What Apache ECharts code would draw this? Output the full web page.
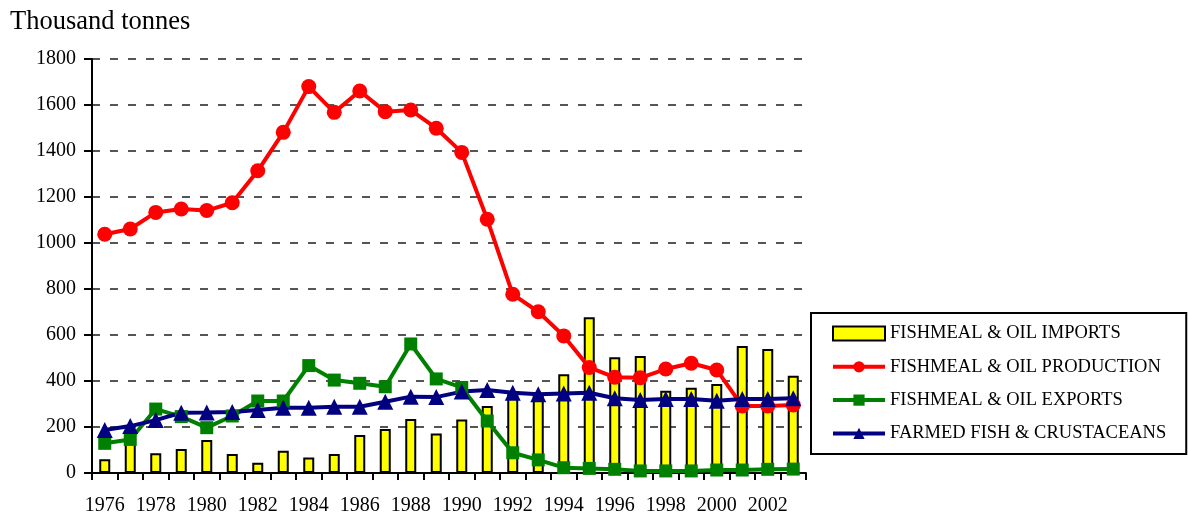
<!DOCTYPE html>
<html>
<head>
<meta charset="utf-8">
<script src="https://cdn.jsdelivr.net/npm/echarts@6/dist/echarts.min.js"></script>
<style>
html,body{margin:0;padding:0;background:#fff;}
#c{width:1188px;height:517px;}
</style>
</head>
<body>
<div id="c"></div>
<script>
var years = ['1976','1977','1978','1979','1980','1981','1982','1983','1984','1985','1986','1987','1988','1989','1990','1991','1992','1993','1994','1995','1996','1997','1998','1999','2000','2001','2002','2003'];
var imports = [60,150,86,104,143,83,45,97,67,83,165,191,235,172,233,291,355,345,429,677,503,509,358,371,387,552,539,423];
var production = [1038,1061,1133,1148,1141,1175,1314,1481,1680,1568,1661,1571,1578,1499,1394,1103,777,701,596,459,416,414,452,477,448,291,291,296];
var exports = [129,146,278,245,197,248,313,313,467,404,390,375,561,409,372,226,88,57,23,20,16,9,9,9,13,13,16,17];
var farmed = [187,204,230,262,263,265,274,284,284,288,288,310,332,330,354,361,349,342,346,349,325,317,322,322,314,322,322,325];
var seriesNames = ['FISHMEAL & OIL IMPORTS','FISHMEAL & OIL PRODUCTION','FISHMEAL & OIL EXPORTS','FARMED FISH & CRUSTACEANS'];
var yTicks = {min:0, max:1800, interval:200};

var FONT = 'Liberation Serif, Times New Roman, serif';
var chart = echarts.init(document.getElementById('c'), null, {renderer:'canvas'});
chart.setOption({
  animation:false,
  backgroundColor:'#fff',
  title:{text:'Thousand tonnes', left:5, top:4, textStyle:{fontFamily:FONT, fontSize:26.5, fontWeight:'normal', color:'#000'}},
  grid:{left:92, right:382, top:59, bottom:44, containLabel:false},
  legend:{
    orient:'vertical', left:811, top:313,
    padding:[11,20,11,20],
    borderColor:'#000', borderWidth:2,
    itemWidth:52, itemHeight:14, itemGap:14.3,
    lineStyle:{width:4},
    textStyle:{fontFamily:FONT, fontSize:18.5, color:'#000'},
    data:[
      {name:seriesNames[0], icon:'rect'},
      {name:seriesNames[1]},
      {name:seriesNames[2]},
      {name:seriesNames[3]}
    ]
  },
  xAxis:{
    type:'category', data:years, boundaryGap:true,
    axisLine:{lineStyle:{color:'#000', width:2}},
    axisTick:{show:true, interval:0, length:7, lineStyle:{color:'#000', width:2}},
    axisLabel:{interval:1, margin:23, fontFamily:FONT, fontSize:20, color:'#000'},
    splitLine:{show:false}
  },
  yAxis:{
    type:'value', min:yTicks.min, max:yTicks.max, interval:yTicks.interval,
    axisLine:{show:true, lineStyle:{color:'#000', width:2}},
    axisTick:{show:true, length:8, lineStyle:{color:'#000', width:2}},
    axisLabel:{margin:16, fontFamily:FONT, fontSize:20, color:'#000', formatter:function(v){return String(v);}},
    splitLine:{show:true, lineStyle:{color:'#555', width:2, type:[8,10]}}
  },
  series:[
    {name:seriesNames[0], type:'bar', data:imports, barWidth:11,
     itemStyle:{color:'#FFFF00', borderColor:'#000', borderWidth:2}},
    {name:seriesNames[1], type:'line', data:production, symbol:'circle', symbolSize:15,
     lineStyle:{color:'#FF0000', width:4}, itemStyle:{color:'#FF0000'}},
    {name:seriesNames[2], type:'line', data:exports, symbol:'rect', symbolSize:13,
     lineStyle:{color:'#008000', width:4}, itemStyle:{color:'#008000'}},
    {name:seriesNames[3], type:'line', data:farmed, symbol:'triangle', symbolSize:16,
     lineStyle:{color:'#000080', width:4}, itemStyle:{color:'#000080'}}
  ]
});
</script>
</body>
</html>
